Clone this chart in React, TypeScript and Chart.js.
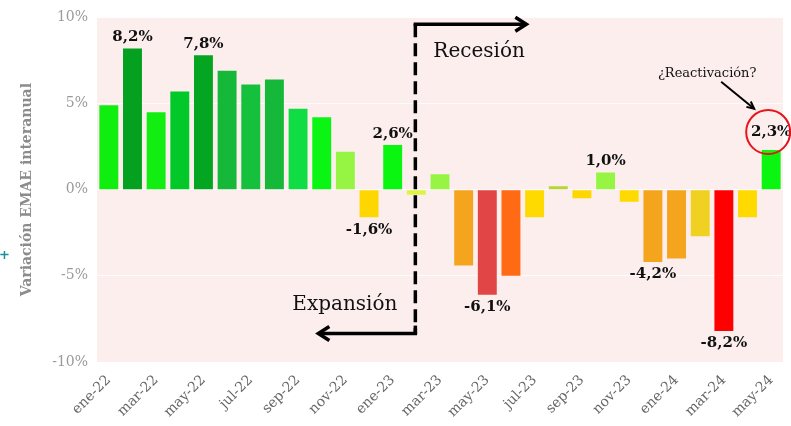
import { useEffect, useRef } from "react";
import { Chart, registerables } from "chart.js";

Chart.register(...registerables);

const months = [
  "ene-22", "feb-22", "mar-22", "abr-22", "may-22", "jun-22", "jul-22", "ago-22", "sep-22", "oct-22", "nov-22", "dic-22",
  "ene-23", "feb-23", "mar-23", "abr-23", "may-23", "jun-23", "jul-23", "ago-23", "sep-23", "oct-23", "nov-23", "dic-23",
  "ene-24", "feb-24", "mar-24", "abr-24", "may-24",
];

const values = [
  4.9, 8.2, 4.5, 5.7, 7.8, 6.9, 6.1, 6.4, 4.7, 4.2, 2.2, -1.6,
  2.6, -0.3, 0.9, -4.4, -6.1, -5.0, -1.6, 0.2, -0.5, 1.0, -0.7, -4.2,
  -4.0, -2.7, -8.2, -1.6, 2.3,
];

const barColors = [
  "#10ee10", "#04a01f", "#12ee12", "#02c82a", "#04a520", "#16b83a", "#15c03c", "#16b83a", "#10dc44", "#0af514", "#96f542", "#ffd700",
  "#0af50f", "#dcf545", "#96f542", "#f5a41d", "#e24545", "#ff6a14", "#ffda00", "#b9d436", "#ffd700", "#96f542", "#ffda00", "#f5a41d",
  "#f5a41d", "#f0d020", "#ff0000", "#ffda00", "#0af50f",
];

const labeledIdx = [1, 4, 11, 12, 16, 21, 23, 26, 28];
const yTicks = [-10, -5, 0, 5, 10];

const FONT = '"DejaVu Serif", serif';

const fmt = (v: number) => v.toFixed(1).replace(".", ",") + "%";

const annotPlugin = {
  id: "annot",
  beforeDraw(chart: any) {
    const { ctx, chartArea: a } = chart;
    ctx.save();
    ctx.fillStyle = "#fdeeee";
    ctx.fillRect(a.left, a.top, a.right - a.left, a.bottom - a.top);
    ctx.restore();
  },
  afterDatasetsDraw(chart: any) {
    const ctx = chart.ctx as CanvasRenderingContext2D;
    const xs = chart.scales.x;
    const ys = chart.scales.y;
    const meta = chart.getDatasetMeta(0);
    ctx.save();

    // data labels
    ctx.font = `bold 15px ${FONT}`;
    ctx.fillStyle = "#111";
    ctx.textAlign = "center";
    let lastBaseline = 0;
    labeledIdx.forEach((i) => {
      const bar = meta.data[i];
      const v = values[i];
      const txt = fmt(v);
      if (v >= 0) {
        ctx.textBaseline = "alphabetic";
        const extra = i === values.length - 1 ? 7 : 0;
        const by = bar.y - 7 - extra;
        if (i === values.length - 1) lastBaseline = by;
        ctx.fillText(txt, bar.x, by);
      } else {
        ctx.textBaseline = "top";
        ctx.fillText(txt, bar.x, bar.y + 5);
      }
    });

    // red circle around last label
    const last = meta.data[values.length - 1];
    ctx.beginPath();
    ctx.strokeStyle = "#e8141c";
    ctx.lineWidth = 2;
    ctx.arc(last.x - 3, lastBaseline - 4, 22, 0, Math.PI * 2);
    ctx.stroke();

    // dashed separator line
    const dx = xs.getPixelForValue(13) - 1;
    const topY = ys.getPixelForValue(9.6);
    const botY = ys.getPixelForValue(-8.35);
    ctx.strokeStyle = "#000";
    ctx.lineWidth = 3.5;
    ctx.lineCap = "butt";
    ctx.setLineDash([13, 6]);
    ctx.beginPath();
    ctx.moveTo(dx, topY);
    ctx.lineTo(dx, botY);
    ctx.stroke();
    ctx.setLineDash([]);
    ctx.beginPath();
    ctx.moveTo(dx, botY - 8);
    ctx.lineTo(dx, botY);
    ctx.stroke();

    // top arrow (right)
    const rTip = dx + 111;
    ctx.beginPath();
    ctx.moveTo(dx - 1.75, topY);
    ctx.lineTo(rTip - 1, topY);
    ctx.stroke();
    ctx.beginPath();
    ctx.moveTo(rTip - 11, topY - 7);
    ctx.lineTo(rTip, topY);
    ctx.lineTo(rTip - 11, topY + 7);
    ctx.stroke();

    // bottom arrow (left)
    const lTip = dx - 97;
    ctx.beginPath();
    ctx.moveTo(dx + 1.75, botY);
    ctx.lineTo(lTip + 1, botY);
    ctx.stroke();
    ctx.beginPath();
    ctx.moveTo(lTip + 11, botY - 7);
    ctx.lineTo(lTip, botY);
    ctx.lineTo(lTip + 11, botY + 7);
    ctx.stroke();

    // texts
    ctx.fillStyle = "#111";
    ctx.font = `20px ${FONT}`;
    ctx.textBaseline = "alphabetic";
    ctx.textAlign = "left";
    ctx.fillText("Recesión", dx + 18, ys.getPixelForValue(7.7));
    ctx.textAlign = "right";
    ctx.fillText("Expansión", dx - 18, ys.getPixelForValue(-7.0));

    // reactivación annotation
    ctx.font = `13px ${FONT}`;
    ctx.textAlign = "center";
    ctx.fillText("¿Reactivación?", last.x - 64, ys.getPixelForValue(6.55));
    const ax0 = last.x - 50, ay0 = ys.getPixelForValue(6.26);
    const ax1 = last.x - 17, ay1 = ys.getPixelForValue(4.7);
    ctx.lineWidth = 2;
    ctx.beginPath();
    ctx.moveTo(ax0, ay0);
    ctx.lineTo(ax1, ay1);
    ctx.stroke();
    const ang = Math.atan2(ay1 - ay0, ax1 - ax0);
    const hl = 8;
    ctx.beginPath();
    ctx.moveTo(ax1 - hl * Math.cos(ang - 0.45), ay1 - hl * Math.sin(ang - 0.45));
    ctx.lineTo(ax1, ay1);
    ctx.lineTo(ax1 - hl * Math.cos(ang + 0.45), ay1 - hl * Math.sin(ang + 0.45));
    ctx.stroke();

    // small teal mark at the left edge
    ctx.fillStyle = "#1a8fa0";
    ctx.font = `bold 13px ${FONT}`;
    ctx.textAlign = "left";
    ctx.fillText("+", -1, 259);

    ctx.restore();
  },
};

export default function App() {
  const ref = useRef<HTMLCanvasElement | null>(null);

  useEffect(() => {
    if (!ref.current) return;
    const chart = new Chart(ref.current, {
      type: "bar",
      data: {
        labels: months,
        datasets: [
          {
            data: values,
            backgroundColor: barColors,
            borderWidth: 0,
            barPercentage: 0.8,
            categoryPercentage: 1,
          },
        ],
      },
      options: {
        animation: false,
        responsive: false,
        maintainAspectRatio: false,
        layout: { padding: { left: 0, top: 15, right: 8, bottom: 0 } },
        plugins: {
          legend: { display: false },
          tooltip: { enabled: false },
        },
        scales: {
          x: {
            offset: true,
            grid: { display: false },
            border: { display: false },
            ticks: {
              autoSkip: false,
              maxRotation: 45,
              minRotation: 45,
              padding: 2,
              color: "#666666",
              font: { family: FONT, size: 14 },
              callback: (_v: any, i: number) => (i % 2 === 0 ? months[i] : ""),
            },
            afterFit: (s: any) => {
              s.height = 64;
            },
          },
          y: {
            min: -10,
            max: 10,
            afterBuildTicks: (s: any) => {
              s.ticks = yTicks.map((v) => ({ value: v }));
            },
            grid: {
              color: "rgba(255,255,255,0.75)",
              lineWidth: 1,
              drawTicks: false,
            },
            border: { display: false },
            ticks: {
              padding: 9,
              color: "#9a9a9a",
              font: { family: FONT, size: 14 },
              callback: (v: any) => `${v}%`,
            },
            title: {
              display: true,
              text: "Variación EMAE interanual",
              color: "#8c8c8c",
              font: { family: FONT, size: 14, weight: "bold" },
              padding: { top: 19, bottom: 0 },
            },
            afterFit: (s: any) => {
              s.width = 97;
            },
          },
        },
      },
      plugins: [annotPlugin],
    } as any);
    return () => chart.destroy();
  }, []);

  return (
    <div style={{ position: "fixed", left: 0, top: 0, width: 791, height: 426, background: "#fff" }}>
      <canvas ref={ref} width={791} height={426} style={{ display: "block" }} />
    </div>
  );
}
